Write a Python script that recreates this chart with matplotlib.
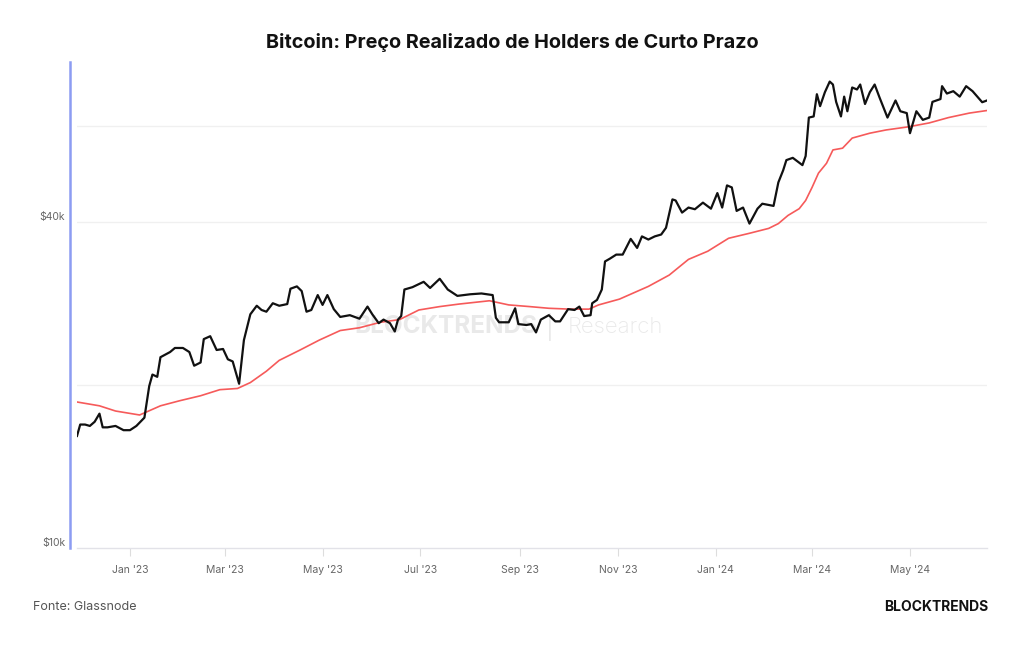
import numpy as np
import pandas as pd
import matplotlib
matplotlib.use('Agg')
import matplotlib.pyplot as plt

plt.rcParams['font.family'] = ['Inter', 'DejaVu Sans']

# ═══ Data ═════════════════════════════════════════════════════════════════

# ─── BTC price (USD thousands)
price_dates = [
    '2022-11-29', '2022-12-01', '2022-12-04', '2022-12-07', '2022-12-10', '2022-12-13',
    '2022-12-15', '2022-12-18', '2022-12-23', '2022-12-28',
    '2023-01-01', '2023-01-05', '2023-01-10', '2023-01-13', '2023-01-15', '2023-01-18',
    '2023-01-20', '2023-01-26', '2023-01-29',
    '2023-02-03', '2023-02-07', '2023-02-10', '2023-02-14', '2023-02-16', '2023-02-20',
    '2023-02-24', '2023-02-28',
    '2023-03-03', '2023-03-06', '2023-03-10', '2023-03-13', '2023-03-17', '2023-03-21',
    '2023-03-24', '2023-03-27', '2023-03-31',
    '2023-04-04', '2023-04-09', '2023-04-11', '2023-04-15', '2023-04-18', '2023-04-21',
    '2023-04-24', '2023-04-28',
    '2023-05-01', '2023-05-04', '2023-05-08', '2023-05-12', '2023-05-18', '2023-05-24',
    '2023-05-29',
    '2023-06-01', '2023-06-05', '2023-06-08', '2023-06-12', '2023-06-15', '2023-06-17',
    '2023-06-19', '2023-06-21', '2023-06-26',
    '2023-07-03', '2023-07-07', '2023-07-13', '2023-07-18', '2023-07-24',
    '2023-08-01', '2023-08-08', '2023-08-15', '2023-08-17', '2023-08-19', '2023-08-25',
    '2023-08-29', '2023-08-31',
    '2023-09-05', '2023-09-08', '2023-09-11', '2023-09-14', '2023-09-19', '2023-09-23',
    '2023-09-26',
    '2023-10-01', '2023-10-05', '2023-10-08', '2023-10-11', '2023-10-15', '2023-10-16',
    '2023-10-19', '2023-10-22', '2023-10-24', '2023-10-27', '2023-10-31',
    '2023-11-04', '2023-11-09', '2023-11-13', '2023-11-16', '2023-11-20', '2023-11-24',
    '2023-11-28',
    '2023-12-01', '2023-12-05', '2023-12-07', '2023-12-11', '2023-12-15', '2023-12-19',
    '2023-12-24', '2023-12-29',
    '2024-01-02', '2024-01-05', '2024-01-08', '2024-01-11', '2024-01-14', '2024-01-18',
    '2024-01-22', '2024-01-27', '2024-01-30',
    '2024-02-06', '2024-02-09', '2024-02-12', '2024-02-14', '2024-02-18', '2024-02-24',
    '2024-02-26', '2024-02-28',
    '2024-03-02', '2024-03-04', '2024-03-06', '2024-03-09', '2024-03-12', '2024-03-14',
    '2024-03-16', '2024-03-19', '2024-03-21', '2024-03-23', '2024-03-26', '2024-03-29',
    '2024-03-31',
    '2024-04-03', '2024-04-06', '2024-04-09', '2024-04-12', '2024-04-17', '2024-04-22',
    '2024-04-25', '2024-04-29',
    '2024-05-01', '2024-05-05', '2024-05-09', '2024-05-13', '2024-05-15', '2024-05-20',
    '2024-05-21', '2024-05-24', '2024-05-28',
    '2024-06-01', '2024-06-05', '2024-06-09', '2024-06-12', '2024-06-15', '2024-06-18',
]
price_k = [
    16.1, 16.9, 16.9, 16.8, 17.1, 17.7,
    16.7, 16.7, 16.8, 16.5,
    16.5, 16.8, 17.4, 19.9, 20.9, 20.7,
    22.5, 23.0, 23.4,
    23.4, 23.0, 21.7, 22.0, 24.3, 24.6,
    23.2, 23.3,
    22.3, 22.1, 20.1, 24.2, 27.0, 28.0,
    27.5, 27.3, 28.3,
    28.0, 28.2, 30.1, 30.4, 29.8, 27.3,
    27.5, 29.3,
    28.1, 29.3, 27.6, 26.7, 26.9, 26.5,
    27.9,
    27.0, 26.0, 26.4, 26.0, 25.1, 26.4,
    26.8, 30.0, 30.3,
    31.0, 30.2, 31.4, 30.0, 29.2,
    29.4, 29.5, 29.3, 26.6, 26.1, 26.1,
    27.7, 25.9,
    25.8, 25.9, 25.0, 26.4, 26.9, 26.2,
    26.2,
    27.6, 27.5, 27.9, 26.8, 26.9, 28.3,
    28.7, 30.0, 33.8, 34.2, 34.8,
    34.8, 37.2, 35.8, 37.6, 37.1, 37.6,
    37.9,
    39.0, 44.0, 43.8, 41.6, 42.5, 42.2,
    43.4, 42.3,
    45.2, 42.5, 46.7, 46.3, 41.9, 42.5,
    39.7, 42.3, 43.2,
    42.8, 47.3, 49.8, 52.0, 52.5, 50.9,
    52.9, 62.3,
    62.6, 68.8, 65.4, 69.4, 72.6, 71.7,
    66.6, 62.6, 68.1, 64.0, 70.8, 70.2,
    71.7,
    66.0, 69.4, 71.7, 67.9, 62.3, 67.0,
    64.0, 63.5,
    58.3, 64.0, 61.7, 62.3, 66.6, 67.4,
    71.2, 69.0, 69.7,
    68.1, 71.2, 69.7, 68.1, 66.5, 67.0,
]

# ─── Short-term holder realized price (USD thousands)
sth_dates = [
    '2022-11-29', '2022-12-13', '2022-12-23', '2023-01-07', '2023-01-20', '2023-02-01',
    '2023-02-14', '2023-02-26', '2023-03-09', '2023-03-17', '2023-03-27', '2023-04-04',
    '2023-04-17', '2023-04-29', '2023-05-12', '2023-05-24', '2023-06-06', '2023-06-18',
    '2023-06-30', '2023-07-13', '2023-07-25', '2023-08-13', '2023-08-25', '2023-09-07',
    '2023-09-19', '2023-10-02', '2023-10-14', '2023-10-20', '2023-11-02', '2023-11-20',
    '2023-12-03', '2023-12-15', '2023-12-27', '2024-01-09', '2024-01-22', '2024-02-03',
    '2024-02-09', '2024-02-15', '2024-02-22', '2024-02-26', '2024-03-01', '2024-03-05',
    '2024-03-10', '2024-03-14', '2024-03-20', '2024-03-26', '2024-04-06', '2024-04-16',
    '2024-04-30', '2024-05-13', '2024-05-25', '2024-06-07', '2024-06-18',
]
sth_k = [
    18.6, 18.3, 17.9, 17.6, 18.3, 18.7,
    19.1, 19.6, 19.7, 20.2, 21.2, 22.2,
    23.2, 24.2, 25.2, 25.5, 26.1, 26.4,
    27.5, 27.9, 28.2, 28.6, 28.1, 27.9,
    27.7, 27.6, 27.6, 28.1, 28.8, 30.4,
    31.9, 34.1, 35.3, 37.3, 38.1, 38.9,
    39.7, 41.1, 42.3, 43.8, 46.3, 49.2,
    51.3, 54.3, 54.7, 57.1, 58.3, 59.1,
    59.9, 60.9, 62.3, 63.5, 64.2,
]

tick_dates = ['2023-01-01', '2023-03-01', '2023-05-01', '2023-07-01', '2023-09-01',
              '2023-11-01', '2024-01-01', '2024-03-01', '2024-05-01']
tick_labels = ["Jan '23", "Mar '23", "May '23", "Jul '23", "Sep '23",
               "Nov '23", "Jan '24", "Mar '24", "May '24"]

grid_values = [20000, 40000, 60000]
label_values = [10000, 40000]
label_texts = ['\\$10k', '\\$40k']

# ═══ Figure ═══════════════════════════════════════════════════════════════

W, H = 1024, 645
fig = plt.figure(figsize=(W/100, H/100), dpi=100)
ax = fig.add_axes([77/W, 1 - 548/H, (987 - 77)/W, (548 - 62)/H])

px = pd.to_datetime(price_dates)
sx = pd.to_datetime(sth_dates)

ax.plot(sx, np.array(sth_k)*1000, color='#f65a5a', lw=1.2, zorder=3)
ax.plot(px, np.array(price_k)*1000, color='#111111', lw=1.6, zorder=4)

ax.set_yscale('log')
ax.set_ylim(10000, 78900)
ax.set_xlim(pd.Timestamp('2022-11-29'), pd.Timestamp('2024-06-18'))
ax.yaxis.set_major_locator(matplotlib.ticker.NullLocator())
ax.yaxis.set_minor_locator(matplotlib.ticker.NullLocator())

for v in grid_values:
    ax.axhline(v, color='#f0f0f0', lw=1, zorder=1)

for v, t in zip(label_values, label_texts):
    ax.annotate(t, xy=(0, v), xycoords=('axes fraction', 'data'),
                xytext=(-12, 5), textcoords='offset pixels',
                ha='right', va='center', fontsize=7.5, color='#666666')

ax.set_xticks(pd.to_datetime(tick_dates))
ax.set_xticklabels(tick_labels)
ax.tick_params(axis='x', length=6, width=0.8, color='#dddddd', pad=6,
               labelsize=7.5, labelcolor='#666666')

for s in ['top', 'right']:
    ax.spines[s].set_visible(False)
ax.spines['bottom'].set_color('#e2e2e8')
ax.spines['bottom'].set_linewidth(1)
ax.spines['left'].set_position(('outward', 5))
ax.spines['left'].set_color('#8c9cf2')
ax.spines['left'].set_linewidth(1.8)

# watermark
ax.text(0.506, 0.455, 'BLOCKTRENDS', transform=ax.transAxes, ha='right', va='center',
        fontsize=17.5, weight='bold', color='#e9e9e9', zorder=0)
ax.text(0.52, 0.455, '|', transform=ax.transAxes, ha='center', va='center',
        fontsize=17, color='#e9e9e9', zorder=0)
ax.text(0.539, 0.455, 'Research', transform=ax.transAxes, ha='left', va='center',
        fontsize=16, weight='light', color='#e9e9e9', zorder=0)

fig.text(0.5, 1 - 43/H, 'Bitcoin: Preço Realizado de Holders de Curto Prazo',
         ha='center', va='center', fontsize=14.3, weight='bold', color='#111111')
fig.text(33/W, 1 - 607/H, 'Fonte: Glassnode', ha='left', va='center',
         fontsize=9, color='#555555')
fig.text(988/W, 1 - 607/H, 'BLOCKTRENDS', ha='right', va='center',
         fontsize=10, weight='bold', color='#111111')

fig.savefig('out.png', dpi=100)
